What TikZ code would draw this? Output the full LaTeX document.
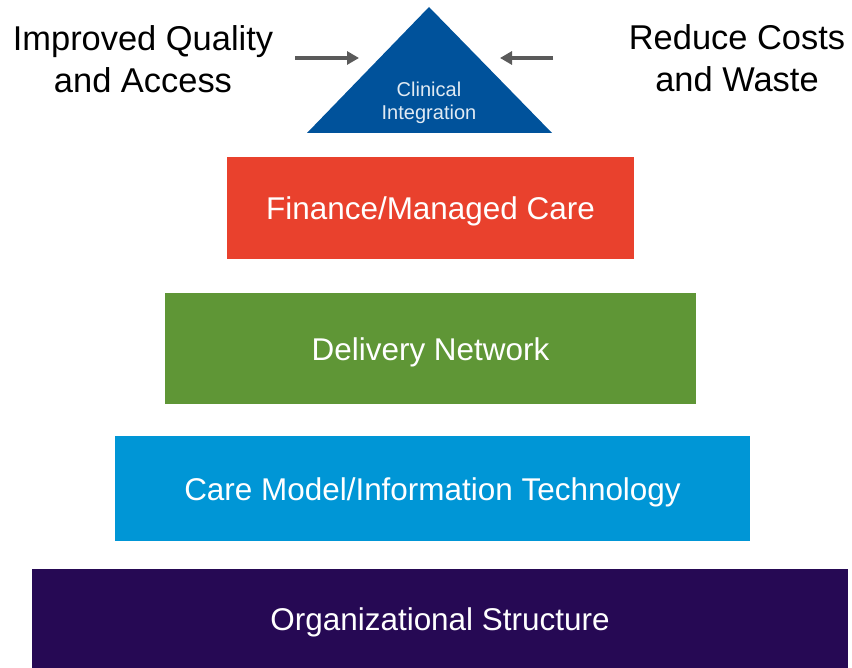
\documentclass[tikz,border=0pt]{standalone}
\usepackage{fontspec}
\setmainfont{Liberation Sans}
\usetikzlibrary{arrows.meta}
\definecolor{financered}{HTML}{E9412D}
\definecolor{deliverygreen}{HTML}{5F9636}
\definecolor{carecyan}{HTML}{0096D6}
\definecolor{orgpurple}{HTML}{260954}
\definecolor{clinicalblue}{HTML}{00529B}
\definecolor{arrowgray}{HTML}{5A5A5A}

\begin{document}
\begin{tikzpicture}[x=0.02cm, y=-0.02cm,
    layer/.style={rectangle, inner sep=0pt, text=white,
        text height=13.6pt, text depth=0pt,
        font=\fontsize{17.9}{21}\selectfont},
    goal/.style={align=center, font=\fontsize{19.6}{23.9}\selectfont},
    push/.style={draw=arrowgray, line width=2pt,
        -{Triangle[length=2.4mm,width=2.6mm]}}]
    \useasboundingbox (0,0) rectangle (852,668);

    % Clinical integration on top
    \coordinate (apex) at (429,7);
    \coordinate (baseright) at (552,133);
    \coordinate (baseleft) at (307,133);
    \fill[clinicalblue] (apex) -- (baseright) -- (baseleft) -- cycle;
    \node[align=center, text=white!88!clinicalblue,
        font=\fontsize{11.4}{13}\selectfont] (clinical) at (429,103)
        {Clinical\\Integration};

    % Goals and the arrows pushing in
    \node[goal] (quality) at (143,59) {Improved Quality\\and Access};
    \node[goal] (costs) at (737,58) {Reduce Costs\\and Waste};
    \coordinate (qualitytail) at (295,58);
    \coordinate (qualityhead) at (359,58);
    \coordinate (coststail) at (553,58);
    \coordinate (costshead) at (500,58);
    \draw[push] (qualitytail) -- (qualityhead);
    \draw[push] (coststail) -- (costshead);

    % Pyramid layers
    \node[layer, fill=financered, minimum width=8.14cm, minimum height=2.04cm]
        (finance) at (430.5,208) {Finance/Managed Care};
    \node[layer, fill=deliverygreen, minimum width=10.62cm, minimum height=2.22cm]
        (delivery) at (430.5,348.5) {Delivery Network};
    \node[layer, fill=carecyan, minimum width=12.7cm, minimum height=2.1cm]
        (caremodel) at (432.5,488.5) {Care Model/Information Technology};
    \node[layer, fill=orgpurple, minimum width=16.32cm, minimum height=1.98cm]
        (organization) at (440,618.5) {Organizational Structure};
\end{tikzpicture}
\end{document}
